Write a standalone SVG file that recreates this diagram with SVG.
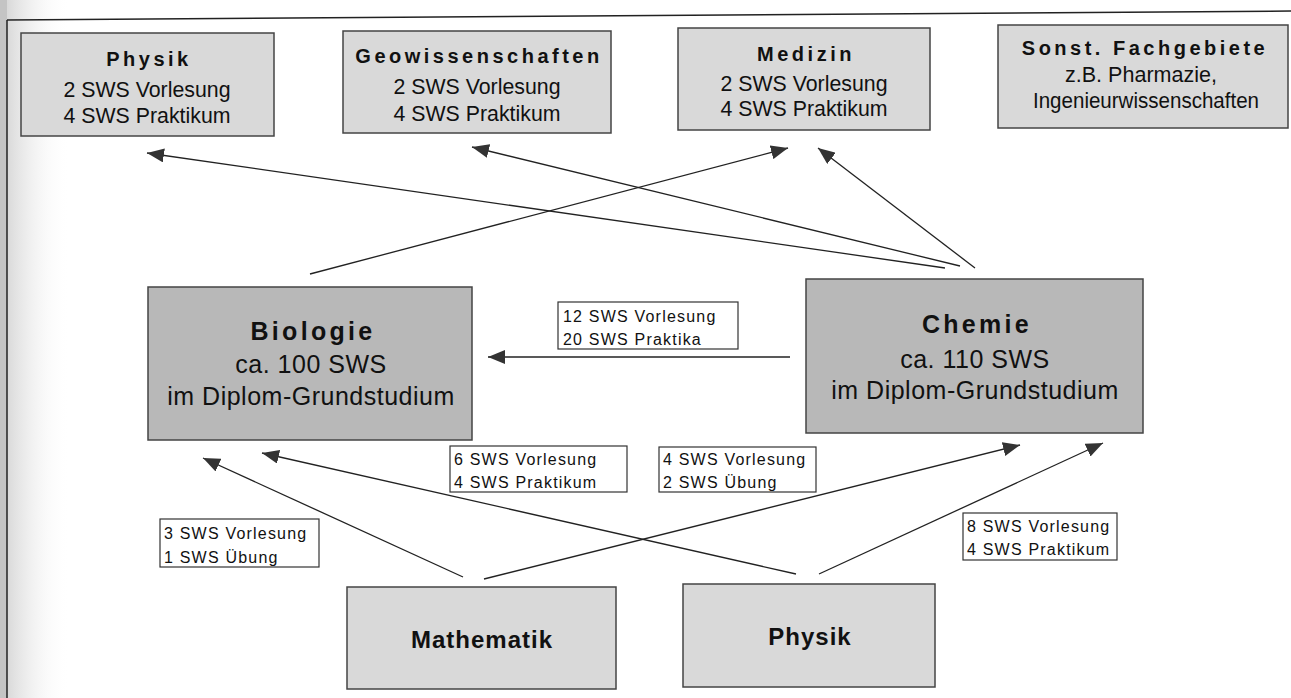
<svg xmlns="http://www.w3.org/2000/svg" width="1291" height="698" viewBox="0 0 1291 698">
<defs>
<linearGradient id="scan" x1="0" y1="0" x2="1" y2="0">
<stop offset="0" stop-color="#d0d0d0"/>
<stop offset="1" stop-color="#ffffff" stop-opacity="0"/>
</linearGradient>
<marker id="ah" markerUnits="userSpaceOnUse" markerWidth="18" markerHeight="14" refX="17" refY="7" orient="auto">
<path d="M0,0 L17,7 L0,14 Z" fill="#333"/>
</marker>
<style>
.lt{fill:#d9d9d9;stroke:#444;stroke-width:1.5}
.dk{fill:#b8b8b8;stroke:#444;stroke-width:1.5}
.lb{fill:#fff;stroke:#333;stroke-width:1.2}
text{font-family:"Liberation Sans",Arial,sans-serif;fill:#111}
.t1{font-size:20px;font-weight:bold;letter-spacing:3.5px;text-anchor:middle}
.s1{font-size:22px;text-anchor:middle}
.t2{font-size:25px;font-weight:bold;letter-spacing:3.3px;text-anchor:middle}
.s2{font-size:25px;letter-spacing:0.5px;text-anchor:middle}
.t3{font-size:24px;font-weight:bold;letter-spacing:1px;text-anchor:middle}
.lbt{font-size:16px;letter-spacing:1.2px}
.c{fill:none;stroke:#222;stroke-width:1.3;marker-end:url(#ah)}
.p{fill:none;stroke:#222;stroke-width:1.5}
</style>
</defs>
<rect x="0" y="0" width="1291" height="698" fill="#fff"/>
<rect x="0" y="0" width="70" height="698" fill="url(#scan)"/>
<rect x="0" y="0" width="7" height="698" fill="#c4c4c4"/>
<g id="frame">
<path class="p" d="M7,20 L1291,11"/>
<path class="p" d="M7,20 L7,698"/>
</g>
<g id="connectors">
<path class="c" d="M945,268 L147,153"/>
<path class="c" d="M960,266 L472,147"/>
<path class="c" d="M975,268 L818,148"/>
<path class="c" d="M310,274 L788,148"/>
<path class="c" d="M790,357 L488,357"/>
<path class="c" d="M463,577 L203,458"/>
<path class="c" d="M796,574 L262,453"/>
<path class="c" d="M484,579 L1020,445"/>
<path class="c" d="M819,574 L1103,443"/>
</g>
<g id="physik-top">
<rect class="lt" x="21" y="33" width="253" height="103"/>
<text class="t1" x="149" y="66">Physik</text>
<text class="s1" x="147" y="97" textLength="167" lengthAdjust="spacingAndGlyphs">2 SWS Vorlesung</text>
<text class="s1" x="147" y="123" textLength="167" lengthAdjust="spacingAndGlyphs">4 SWS Praktikum</text>
</g>
<g id="geowissenschaften">
<rect class="lt" x="343" y="31" width="268" height="102"/>
<text class="t1" x="479" y="63">Geowissenschaften</text>
<text class="s1" x="477" y="94" textLength="167" lengthAdjust="spacingAndGlyphs">2 SWS Vorlesung</text>
<text class="s1" x="477" y="121" textLength="167" lengthAdjust="spacingAndGlyphs">4 SWS Praktikum</text>
</g>
<g id="medizin">
<rect class="lt" x="678" y="28" width="252" height="102"/>
<text class="t1" x="806" y="61">Medizin</text>
<text class="s1" x="804" y="91" textLength="167" lengthAdjust="spacingAndGlyphs">2 SWS Vorlesung</text>
<text class="s1" x="804" y="116" textLength="167" lengthAdjust="spacingAndGlyphs">4 SWS Praktikum</text>
</g>
<g id="sonstige">
<rect class="lt" x="998" y="25" width="290" height="103"/>
<text class="t1" x="1145" y="55">Sonst. Fachgebiete</text>
<text class="s1" x="1141" y="82" textLength="152" lengthAdjust="spacingAndGlyphs">z.B. Pharmazie,</text>
<text class="s1" x="1146" y="108" textLength="226" lengthAdjust="spacingAndGlyphs">Ingenieurwissenschaften</text>
</g>
<g id="biologie">
<rect class="dk" x="148" y="287" width="324" height="153"/>
<text class="t2" x="313" y="340">Biologie</text>
<text class="s2" x="311" y="373">ca. 100 SWS</text>
<text class="s2" x="311" y="405">im Diplom-Grundstudium</text>
</g>
<g id="chemie">
<rect class="dk" x="806" y="279" width="337" height="154"/>
<text class="t2" x="977" y="333">Chemie</text>
<text class="s2" x="975" y="368">ca. 110 SWS</text>
<text class="s2" x="975" y="399">im Diplom-Grundstudium</text>
</g>
<g id="mathematik">
<rect class="lt" x="347" y="587" width="269" height="102"/>
<text class="t3" x="482" y="648">Mathematik</text>
</g>
<g id="physik-bottom">
<rect class="lt" x="683" y="584" width="252" height="103"/>
<text class="t3" x="810" y="645">Physik</text>
</g>
<g id="label-chemie-biologie">
<rect class="lb" x="558" y="302" width="180" height="47"/>
<text class="lbt" x="563" y="322">12 SWS Vorlesung</text>
<text class="lbt" x="563" y="345">20 SWS Praktika</text>
</g>
<g id="label-physik-biologie">
<rect class="lb" x="450" y="446" width="177" height="46"/>
<text class="lbt" x="454" y="465">6 SWS Vorlesung</text>
<text class="lbt" x="454" y="488">4 SWS Praktikum</text>
</g>
<g id="label-mathe-chemie">
<rect class="lb" x="659" y="447" width="157" height="45"/>
<text class="lbt" x="663" y="465">4 SWS Vorlesung</text>
<text class="lbt" x="663" y="488">2 SWS Übung</text>
</g>
<g id="label-mathe-biologie">
<rect class="lb" x="160" y="519" width="159" height="48"/>
<text class="lbt" x="164" y="539">3 SWS Vorlesung</text>
<text class="lbt" x="164" y="563">1 SWS Übung</text>
</g>
<g id="label-physik-chemie">
<rect class="lb" x="963" y="513" width="154" height="47"/>
<text class="lbt" x="967" y="532">8 SWS Vorlesung</text>
<text class="lbt" x="967" y="555">4 SWS Praktikum</text>
</g>
</svg>
